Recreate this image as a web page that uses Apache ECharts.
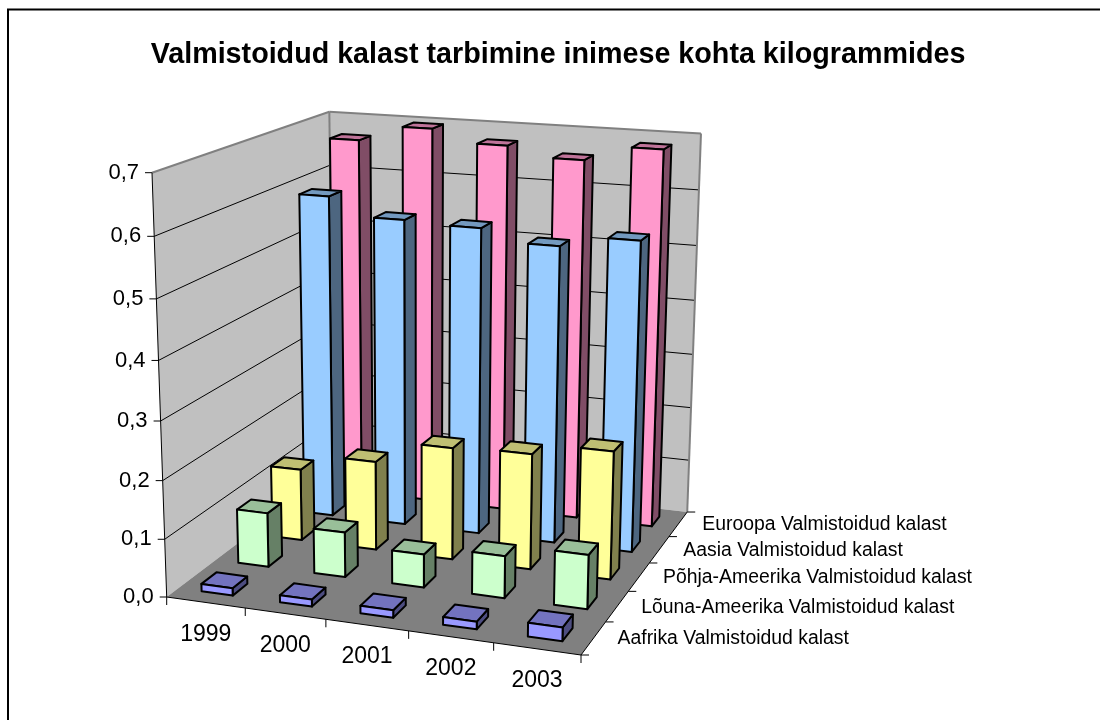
<!DOCTYPE html>
<html>
<head>
<meta charset="utf-8">
<title>Valmistoidud kalast</title>
<script src="https://cdn.jsdelivr.net/npm/echarts@6/dist/echarts.min.js"></script>
<style>
  html, body { margin: 0; padding: 0; background: #fff; }
  #chart { width: 1100px; height: 720px; }
</style>
</head>
<body>
<div id="chart"></div>
<script>
const chartTitle = 'Valmistoidud kalast tarbimine inimese kohta kilogrammides';
const years = ['1999', '2000', '2001', '2002', '2003'];
const yTicks = [0, 0.1, 0.2, 0.3, 0.4, 0.5, 0.6, 0.7];

// tagumine rida enne, et eesmised tulbad jääksid peale
const seriesNames = [
  'Euroopa Valmistoidud kalast',
  'Aasia Valmistoidud kalast',
  'Põhja-Ameerika Valmistoidud kalast',
  'Lõuna-Ameerika Valmistoidud kalast',
  'Aafrika Valmistoidud kalast'
];
const euroopa = [0.667, 0.696, 0.674, 0.657, 0.684];
const aasia = [0.589, 0.557, 0.553, 0.532, 0.552];
const pohjaAmeerika = [0.13, 0.16, 0.2, 0.205, 0.225];
const lounaAmeerika = [0.096, 0.079, 0.058, 0.073, 0.093];
const aafrika = [0.013, 0.012, 0.013, 0.013, 0.023];
const allValues = [euroopa, aasia, pohjaAmeerika, lounaAmeerika, aafrika];

// esikülg, külg, pealmine
const barColors = [
  ['#FF99CC', '#804D66', '#BF7399'],
  ['#99CCFF', '#4D6680', '#7399BF'],
  ['#FFFF99', '#80804D', '#BFBF73'],
  ['#CCFFCC', '#668066', '#99BF99'],
  ['#9999FF', '#4D4D80', '#7373BF']
];

// 3D vaate nurgad ekraanil: O alguspunkt, B parem ees, C vasak taga, D vasak ülal
const O = [166.7, 597], B = [581, 655], C = [333.5, 471], D = [152, 172.7];
const wB = 0.9359, wC = 1.1905, wD = 0.945;
const barShare = 0.4;

// u - aastate suund, d - sügavus (0 ees, 1 taga), v - kõrgus, kõik 0..1
function project(u, d, v) {
  const w = 1 + u * (wB - 1) + d * (wC - 1) + v * (wD - 1);
  const calc = i => (O[i] + u * (wB * B[i] - O[i]) + d * (wC * C[i] - O[i]) + v * (wD * D[i] - O[i])) / w;
  return [calc(0), calc(1)];
}

function poly(points, fill, stroke, lineWidth) {
  return {
    type: 'polygon',
    shape: { points: points },
    style: { fill: fill, stroke: stroke, lineWidth: lineWidth, lineJoin: 'round' }
  };
}

function line(a, b, stroke, lineWidth) {
  return {
    type: 'line',
    shape: { x1: a[0], y1: a[1], x2: b[0], y2: b[1] },
    style: { stroke: stroke, lineWidth: lineWidth }
  };
}

function label(text, x, y, size, align) {
  return {
    type: 'text',
    style: {
      text: text, x: x, y: y, fill: '#000',
      font: size + 'px "Liberation Sans", Arial, sans-serif',
      textAlign: align, textVerticalAlign: 'middle'
    }
  };
}

// seinad, põrand, teljed ja nende sildid
function renderFrame(params, api) {
  const cs = params.coordSys;
  const children = [];
  const toV = val => (cs.y + cs.height - api.coord([0, val])[1]) / cs.height;

  children.push(poly([project(0, 0, 0), project(0, 1, 0), project(0, 1, 1), project(0, 0, 1)], '#C0C0C0', 'none', 0));
  children.push(poly([project(0, 1, 0), project(1, 1, 0), project(1, 1, 1), project(0, 1, 1)], '#C0C0C0', 'none', 0));
  children.push(poly([project(0, 0, 0), project(1, 0, 0), project(1, 1, 0), project(0, 1, 0)], '#808080', 'none', 0));

  yTicks.forEach(t => {
    const v = toV(t);
    if (t > 0 && t < 0.7) {
      children.push(line(project(0, 0, v), project(0, 1, v), '#000', 1));
      children.push(line(project(0, 1, v), project(1, 1, v), '#000', 1));
    }
    const p = project(0, 0, v);
    children.push(line([p[0] - 7, p[1]], p, '#000', 1));
    children.push(label(t.toFixed(1).replace('.', ','), p[0] - 13, p[1], 22, 'right'));
  });

  // seinte servad
  children.push(line(project(0, 0, 1), project(0, 1, 1), '#808080', 2));
  children.push(line(project(0, 1, 1), project(1, 1, 1), '#808080', 2));
  children.push(line(project(1, 1, 1), project(1, 1, 0), '#808080', 2));
  children.push(line(project(0, 1, 0), project(0, 1, 1), '#808080', 2));

  // teljejooned
  children.push(line(project(0, 0, 0), project(0, 0, 1), '#000', 1));
  children.push(line(project(0, 0, 0), project(1, 0, 0), '#000', 1));
  children.push(line(project(1, 0, 0), project(1, 1, 0), '#000', 1));

  years.forEach((y, i) => {
    const c = project((i + 0.5) / years.length, 0, 0);
    children.push(label(y, c[0], c[1] + 32, 23, 'center'));
  });
  for (let i = 0; i <= years.length; i++) {
    const p = project(i / years.length, 0, 0);
    children.push(line(p, [p[0], p[1] + 8], '#000', 1));
  }
  seriesNames.forEach((name, i) => {
    const c = project(1, 1 - (i + 0.5) / seriesNames.length, 0);
    children.push(label(name, c[0] + 24, c[1] + 1, 19.4, 'left'));
  });
  for (let i = 0; i <= seriesNames.length; i++) {
    const p = project(1, i / seriesNames.length, 0);
    children.push(line(p, [p[0] + 8, p[1]], '#000', 1));
  }
  return { type: 'group', children: children };
}

// üks tulp: esikülg, parem külg ja pealmine
function renderBar(row) {
  return function (params, api) {
    const cs = params.coordSys;
    const pt = api.coord([api.value(0), api.value(1)]);
    const band = api.size([1, 0])[0] / cs.width;
    const mid = (pt[0] - cs.x) / cs.width;
    const v = (cs.y + cs.height - pt[1]) / cs.height;
    const u0 = mid - band * barShare / 2;
    const u1 = mid + band * barShare / 2;
    const depthBand = 1 / seriesNames.length;
    const dMid = 1 - (row + 0.5) * depthBand;
    const d0 = dMid - depthBand * barShare / 2;
    const d1 = dMid + depthBand * barShare / 2;
    const colors = barColors[row];
    return {
      type: 'group',
      children: [
        poly([project(u1, d0, 0), project(u1, d1, 0), project(u1, d1, v), project(u1, d0, v)], colors[1], '#000', 2),
        poly([project(u0, d0, v), project(u1, d0, v), project(u1, d1, v), project(u0, d1, v)], colors[2], '#000', 2),
        poly([project(u0, d0, 0), project(u1, d0, 0), project(u1, d0, v), project(u0, d0, v)], colors[0], '#000', 2)
      ]
    };
  };
}

const chart = echarts.init(document.getElementById('chart'), null, { renderer: 'canvas' });

chart.setOption({
  animation: false,
  backgroundColor: '#fff',
  title: {
    text: chartTitle,
    left: 553,
    top: 36,
    textAlign: 'center',
    textStyle: { fontFamily: '"Liberation Sans", Arial, sans-serif', fontSize: 28.7, fontWeight: 'bold', color: '#000' }
  },
  // peidetud teljed annavad skaala, 3D asendi teeb project()
  grid: { left: 100, right: 100, top: 100, bottom: 100 },
  xAxis: { type: 'category', data: years, show: false },
  yAxis: { type: 'value', min: 0, max: 0.7, interval: 0.1, show: false },
  graphic: [{
    type: 'rect',
    silent: true,
    shape: { x: 8, y: 9.5, width: 1200, height: 800 },
    style: { fill: 'none', stroke: '#000', lineWidth: 2 }
  }],
  series: [
    { type: 'custom', clip: false, silent: true, data: [[0, 0]], renderItem: renderFrame }
  ].concat(allValues.map((values, row) => ({
    name: seriesNames[row],
    type: 'custom',
    clip: false,
    silent: true,
    data: values.map((v, i) => [i, v]),
    encode: { x: 0, y: 1 },
    renderItem: renderBar(row)
  })))
});
</script>
</body>
</html>
